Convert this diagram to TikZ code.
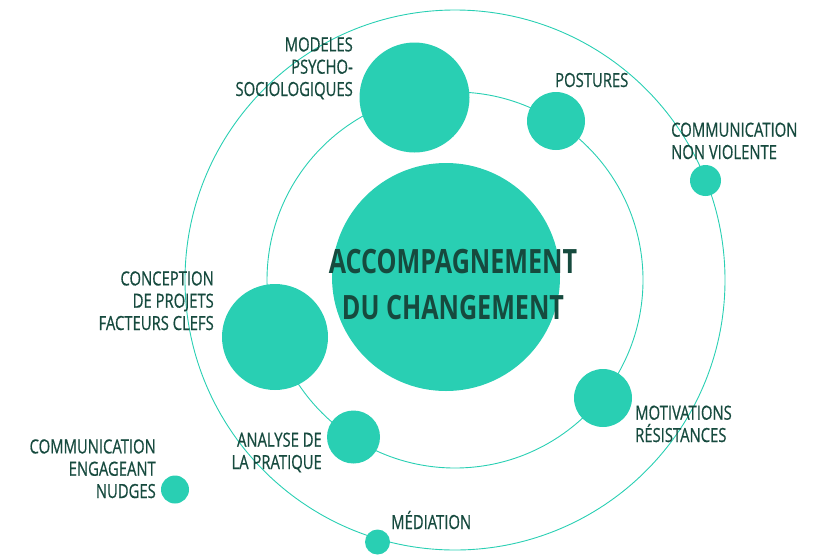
\documentclass[tikz,border=0pt]{standalone}
\usepackage{fontspec}
\newfontfamily\labfont[FakeStretch=0.76,FakeBold=0.6]{Open Sans}
\newfontfamily\titfont[FakeStretch=0.75]{Open Sans}
\definecolor{tealc}{RGB}{41,207,179}
\definecolor{dk}{RGB}{22,74,62}
\begin{document}
\begin{tikzpicture}[x=1pt,y=-1pt,
 bub/.style={circle,fill=tealc,inner sep=0pt,minimum size=#1},
 orbit/.style={draw=tealc,line width=0.9pt},
 lab/.style={text=dk,font=\labfont\fontsize{19.5}{22.3}\selectfont,inner sep=0pt},
 labl/.style={lab,align=left,anchor=base west},
 labr/.style={lab,align=right,anchor=base east}]
\useasboundingbox (0,0) rectangle (813,555);
\coordinate (O) at (455,280);
\draw[orbit] (O) circle[radius=188];
\draw[orbit] (O) circle[radius=270];
\node[bub=228] (center) at (446,277) {};
\node[bub=110] (modeles) at (414.5,97.5) {};
\node[bub=58] (postures) at (556,121) {};
\node[bub=31] (cnv) at (705.5,180.5) {};
\node[bub=106] (conception) at (275,337) {};
\node[bub=53] (analyse) at (353.5,437) {};
\node[bub=58] (motiv) at (603,398) {};
\node[bub=28] (nudges) at (175,489.5) {};
\node[bub=25] (mediation) at (377.5,542) {};
\node[text=dk,font=\titfont\bfseries\fontsize{33.5}{46}\selectfont,align=center,anchor=base,inner sep=0pt] (title) at (453,319) {ACCOMPAGNEMENT\\DU CHANGEMENT};
\node[labr] (tmodeles) at (353,96) {MODELES\\PSYCHO-\\SOCIOLOGIQUES};
\node[labl] (tpostures) at (555,87) {POSTURES};
\node[labl] (tcnv) at (671,159) {COMMUNICATION\\NON VIOLENTE};
\node[labr] (tconception) at (214,330) {CONCEPTION\\DE PROJETS\\FACTEURS CLEFS};
\node[labr] (tanalyse) at (322,469) {ANALYSE DE\\LA PRATIQUE};
\node[labr] (tnudges) at (156,498) {COMMUNICATION\\ENGAGEANT\\NUDGES};
\node[labl] (tmediation) at (391,529) {MÉDIATION};
\node[labl] (tmotiv) at (635,442) {MOTIVATIONS\\RÉSISTANCES};
\end{tikzpicture}
\end{document}
